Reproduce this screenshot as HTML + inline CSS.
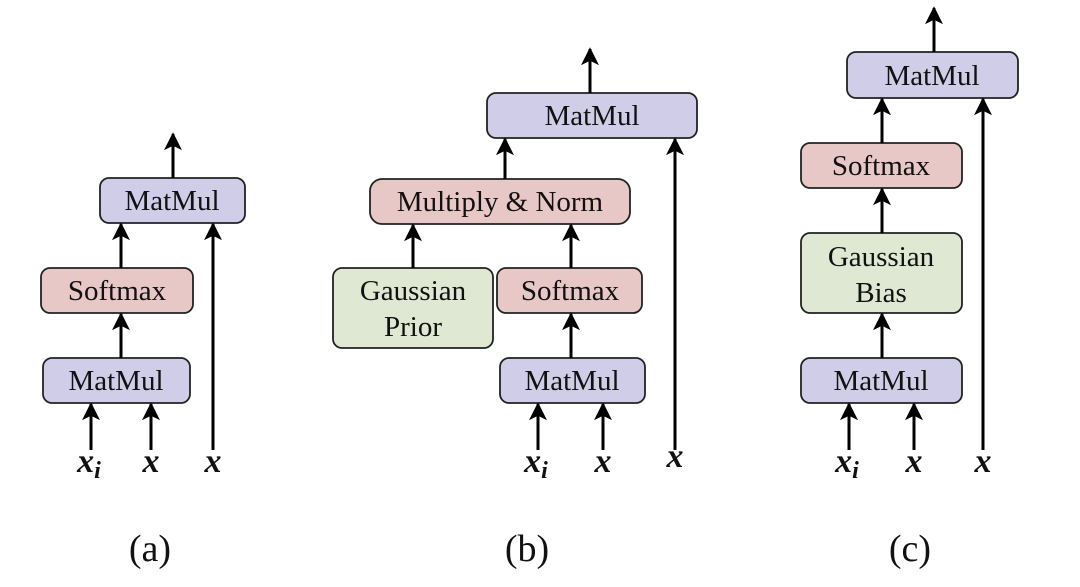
<!DOCTYPE html>
<html><head><meta charset="utf-8"><style>
html,body{margin:0;padding:0;background:#fff}
svg{display:block}
text{font-family:"Liberation Serif",serif;fill:#111}
.p{fill:#cfcde8;stroke:#222;stroke-width:1.8}
.r{fill:#e8c8c6;stroke:#222;stroke-width:1.8}
.g{fill:#dfe8d2;stroke:#222;stroke-width:1.8}
.a{stroke:#000;stroke-width:3;fill:none;marker-end:url(#h)}
.t{font-size:29px;text-anchor:middle}
.v{font-size:34px;font-style:italic;font-weight:bold;text-anchor:middle}
.c{font-size:38px;text-anchor:middle}
</style></head><body>
<svg width="1080" height="587" viewBox="0 0 1080 587" xmlns="http://www.w3.org/2000/svg">
<defs><marker id="h" viewBox="0 0 10 10" refX="9" refY="5" markerWidth="6" markerHeight="6" orient="auto" markerUnits="strokeWidth"><path d="M0,0 L10,5 L0,10 L2.5,5 z" fill="#000"/></marker></defs>

<!-- (a) -->
<rect class="p" x="100" y="178" width="145" height="45" rx="9"/>
<text class="t" x="172" y="210">MatMul</text>
<rect class="r" x="41" y="268" width="152" height="45" rx="9"/>
<text class="t" x="117" y="300">Softmax</text>
<rect class="p" x="43" y="358" width="147" height="45" rx="9"/>
<text class="t" x="116" y="390">MatMul</text>
<line class="a" x1="173" y1="178" x2="173" y2="134"/>
<line class="a" x1="121" y1="268" x2="121" y2="224"/>
<line class="a" x1="121" y1="358" x2="121" y2="314"/>
<line class="a" x1="213" y1="450" x2="213" y2="224"/>
<line class="a" x1="91" y1="450" x2="91" y2="404"/>
<line class="a" x1="151" y1="450" x2="151" y2="404"/>
<text class="v" x="89" y="472">x<tspan font-size="24" dy="6">i</tspan></text>
<text class="v" x="151" y="472">x</text>
<text class="v" x="213" y="472">x</text>
<text class="c" x="150" y="561">(a)</text>

<!-- (b) -->
<rect class="p" x="487" y="93" width="210" height="45" rx="9"/>
<text class="t" x="592" y="125">MatMul</text>
<rect class="r" x="370" y="179" width="260" height="45" rx="12"/>
<text class="t" x="500" y="211">Multiply &amp; Norm</text>
<rect class="g" x="333" y="268" width="160" height="80" rx="9"/>
<text class="t" x="413" y="300">Gaussian</text>
<text class="t" x="413" y="336">Prior</text>
<rect class="r" x="497" y="268" width="145" height="45" rx="9"/>
<text class="t" x="570" y="300">Softmax</text>
<rect class="p" x="500" y="358" width="145" height="45" rx="9"/>
<text class="t" x="572" y="390">MatMul</text>
<line class="a" x1="590" y1="93" x2="590" y2="49"/>
<line class="a" x1="505" y1="179" x2="505" y2="139"/>
<line class="a" x1="675" y1="450" x2="675" y2="139"/>
<line class="a" x1="413" y1="268" x2="413" y2="225"/>
<line class="a" x1="571" y1="268" x2="571" y2="225"/>
<line class="a" x1="571" y1="358" x2="571" y2="314"/>
<line class="a" x1="538" y1="450" x2="538" y2="404"/>
<line class="a" x1="603" y1="450" x2="603" y2="404"/>
<text class="v" x="536" y="472">x<tspan font-size="24" dy="6">i</tspan></text>
<text class="v" x="603" y="472">x</text>
<text class="v" x="675" y="467">x</text>
<text class="c" x="527" y="561">(b)</text>

<!-- (c) -->
<rect class="p" x="847" y="52" width="171" height="46" rx="9"/>
<text class="t" x="932" y="85">MatMul</text>
<rect class="r" x="801" y="143" width="161" height="45" rx="9"/>
<text class="t" x="881" y="175">Softmax</text>
<rect class="g" x="801" y="233" width="161" height="80" rx="9"/>
<text class="t" x="881" y="266">Gaussian</text>
<text class="t" x="881" y="302">Bias</text>
<rect class="p" x="801" y="358" width="161" height="45" rx="9"/>
<text class="t" x="881" y="390">MatMul</text>
<line class="a" x1="934" y1="52" x2="934" y2="8"/>
<line class="a" x1="882" y1="143" x2="882" y2="99"/>
<line class="a" x1="882" y1="233" x2="882" y2="189"/>
<line class="a" x1="882" y1="358" x2="882" y2="314"/>
<line class="a" x1="983" y1="450" x2="983" y2="99"/>
<line class="a" x1="849" y1="450" x2="849" y2="404"/>
<line class="a" x1="914" y1="450" x2="914" y2="404"/>
<text class="v" x="847" y="472">x<tspan font-size="24" dy="6">i</tspan></text>
<text class="v" x="914" y="472">x</text>
<text class="v" x="983" y="472">x</text>
<text class="c" x="910" y="561">(c)</text>
</svg>
</body></html>
